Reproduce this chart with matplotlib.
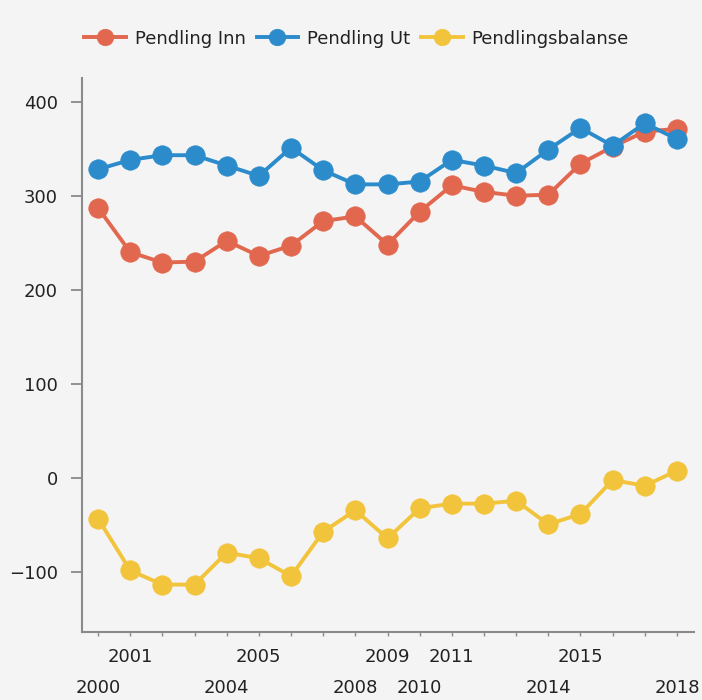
import matplotlib.pyplot as plt

# Commuting figures 2000-2018
years = list(range(2000, 2019))
pendling_inn = [287, 240, 229, 230, 252, 236, 247, 273, 278, 248,
                283, 311, 304, 300, 301, 334, 352, 368, 371]
pendling_ut = [328, 338, 343, 343, 332, 321, 351, 327, 312, 312,
               315, 338, 332, 324, 349, 372, 353, 377, 360]
pendlingsbalanse = [-43, -98, -113, -113, -79, -85, -104, -57, -34, -64,
                    -32, -27, -27, -24, -49, -38, -2, -8, 8]

# staggered x labels: upper row / lower row
upper_row = [2001, 2005, 2009, 2011, 2015]
lower_row = [2000, 2004, 2008, 2010, 2014, 2018]

BG = "#f4f4f4"
RED = "#e2674f"
BLUE = "#2b8bcb"
YELLOW = "#f2c43c"
FS = 13

fig = plt.figure(figsize=(7.02, 7.0), dpi=100, facecolor=BG)
ax = fig.add_axes([0.1168, 0.0976, 0.8718, 0.791], facecolor=BG)

x = list(range(len(years)))
series = [
    ("Pendling Inn", pendling_inn, RED),
    ("Pendling Ut", pendling_ut, BLUE),
    ("Pendlingsbalanse", pendlingsbalanse, YELLOW),
]
for name, vals, col in series:
    ax.plot(x, vals, color=col, lw=2.8, marker="o", markersize=14,
            markerfacecolor=col, markeredgecolor=col, markeredgewidth=0.5,
            label=name, zorder=3)

ax.set_xlim(-0.5, 18.53)
ax.set_ylim(-163, 425)
ax.set_yticks([-100, 0, 100, 200, 300, 400])

# major ticks on every year, upper row labels on them
ax.set_xticks(x)
ax.set_xticklabels([str(y) if y in upper_row else "" for y in years])
# lower row as minor ticks with no tick mark
ax.xaxis.remove_overlapping_locs = False
ax.set_xticks([years.index(y) for y in lower_row], minor=True)
ax.set_xticklabels([str(y) for y in lower_row], minor=True)

for side in ["top", "right"]:
    ax.spines[side].set_visible(False)
for side in ["left", "bottom"]:
    ax.spines[side].set_color("#8a8a8a")
    ax.spines[side].set_linewidth(1.5)

ax.tick_params(axis="y", direction="out", length=7.7, width=1.3,
               color="#8a8a8a", pad=9.5, labelsize=FS, labelcolor="#222222")
ax.tick_params(axis="x", which="major", direction="out", length=3, width=1.0,
               color="#8a8a8a", pad=9, labelsize=FS, labelcolor="#222222")
ax.tick_params(axis="x", which="minor", length=0, pad=34,
               labelsize=FS, labelcolor="#222222")

fig.legend(loc="center", bbox_to_anchor=(0.508, 0.945), ncol=3, frameon=False,
           fontsize=FS, handlelength=2.3, handletextpad=0.5,
           columnspacing=0.6, markerscale=0.85, labelcolor="#222222")

fig.savefig("out.png", dpi=100, facecolor=BG)
